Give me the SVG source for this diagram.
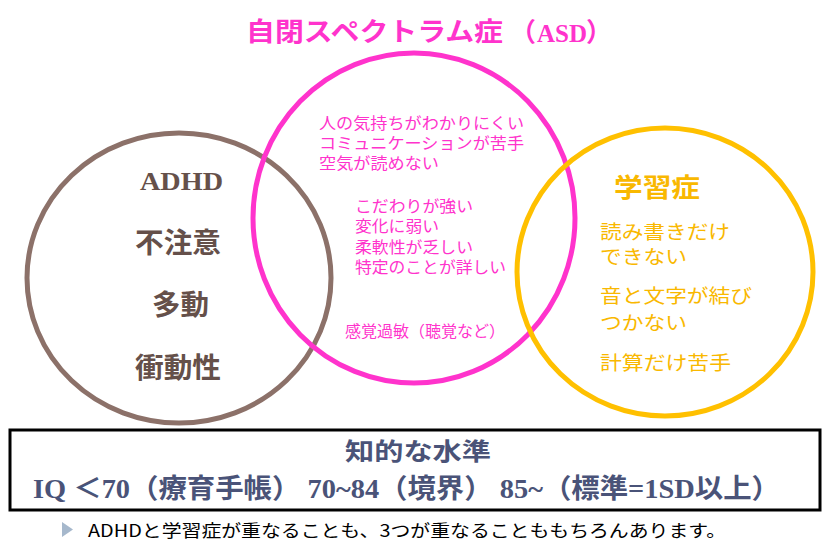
<svg xmlns="http://www.w3.org/2000/svg" width="834" height="550" viewBox="0 0 834 550">
<style>
.jp{font-family:"Noto Sans CJK JP","Noto Sans",sans-serif}
.sf{font-family:"Liberation Serif","Noto Sans CJK JP",serif;font-weight:bold}
.pk{fill:#FF33CC;font-size:16px}
.br{fill:#65504A;font-size:28px;font-weight:bold}
.or{fill:#F9B800;font-size:19px}
.nv{fill:#4A5378}
.ring{fill:none;stroke-width:5}
</style>
<rect width="834" height="550" fill="#ffffff"/>
<g id="title">
<text class="jp" x="246" y="41" font-size="26" font-weight="bold" fill="#FF33CC" textLength="257" lengthAdjust="spacingAndGlyphs">自閉スペクトラム症</text>
<text class="jp" x="510" y="41" font-size="26" font-weight="bold" fill="#FF33CC">（</text>
<text class="sf" x="537" y="42" font-size="26" fill="#FF33CC" textLength="50" lengthAdjust="spacingAndGlyphs">ASD</text>
<text class="jp" x="586" y="41" font-size="26" font-weight="bold" fill="#FF33CC">）</text>
</g>
<g id="adhd">
<ellipse class="ring" cx="179" cy="278" rx="152" ry="145" stroke="#8C7169"/>
<text class="sf" x="140" y="190" font-size="26" fill="#65504A" textLength="83" lengthAdjust="spacingAndGlyphs">ADHD</text>
<text class="jp br" x="135" y="253" textLength="86" lengthAdjust="spacingAndGlyphs">不注意</text>
<text class="jp br" x="152" y="315" textLength="57" lengthAdjust="spacingAndGlyphs">多動</text>
<text class="jp br" x="135" y="378" textLength="86" lengthAdjust="spacingAndGlyphs">衝動性</text>
</g>
<g id="asd">
<ellipse class="ring" cx="414" cy="218" rx="161" ry="165" stroke="#FF33CC"/>
<text class="jp pk" x="319" y="129" textLength="205" lengthAdjust="spacingAndGlyphs">人の気持ちがわかりにくい</text>
<text class="jp pk" x="319" y="149" textLength="205" lengthAdjust="spacingAndGlyphs">コミュニケーションが苦手</text>
<text class="jp pk" x="319" y="169" textLength="120" lengthAdjust="spacingAndGlyphs">空気が読めない</text>
<text class="jp pk" x="355" y="212" textLength="118" lengthAdjust="spacingAndGlyphs">こだわりが強い</text>
<text class="jp pk" x="355" y="232" textLength="84" lengthAdjust="spacingAndGlyphs">変化に弱い</text>
<text class="jp pk" x="355" y="253" textLength="118" lengthAdjust="spacingAndGlyphs">柔軟性が乏しい</text>
<text class="jp pk" x="355" y="273" textLength="151" lengthAdjust="spacingAndGlyphs">特定のことが詳しい</text>
<text class="jp pk" x="345" y="337" textLength="160" lengthAdjust="spacingAndGlyphs">感覚過敏（聴覚など）</text>
</g>
<g id="ld">
<ellipse class="ring" cx="665" cy="272" rx="148" ry="144" stroke="#FFC000"/>
<text class="jp" x="614" y="197" font-size="26" font-weight="bold" fill="#F9B800" textLength="86" lengthAdjust="spacingAndGlyphs">学習症</text>
<text class="jp or" x="600" y="239" textLength="130" lengthAdjust="spacingAndGlyphs">読み書きだけ</text>
<text class="jp or" x="600" y="264" textLength="87" lengthAdjust="spacingAndGlyphs">できない</text>
<text class="jp or" x="600" y="303" textLength="152" lengthAdjust="spacingAndGlyphs">音と文字が結び</text>
<text class="jp or" x="600" y="330" textLength="87" lengthAdjust="spacingAndGlyphs">つかない</text>
<text class="jp or" x="600" y="370" textLength="131" lengthAdjust="spacingAndGlyphs">計算だけ苦手</text>
</g>
<g id="iq">
<rect x="10" y="430" width="810" height="80" fill="none" stroke="#000000" stroke-width="3"/>
<text class="jp nv" x="345" y="460" font-size="24" font-weight="bold" textLength="146" lengthAdjust="spacingAndGlyphs">知的な水準</text>
<text class="sf nv" x="33" y="498" font-size="27" textLength="747" lengthAdjust="spacingAndGlyphs">IQ ＜70（療育手帳） 70~84（境界） 85~（標準=1SD以上）</text>
</g>
<g id="note">
<polygon points="62,522 73,529.5 62,537" fill="#A6B8CC"/>
<text class="jp" x="88" y="537" font-size="17" fill="#000000" textLength="638" lengthAdjust="spacingAndGlyphs">ADHDと学習症が重なることも、3つが重なることももちろんあります。</text>
</g>
<g id="connectors"/>
</svg>
